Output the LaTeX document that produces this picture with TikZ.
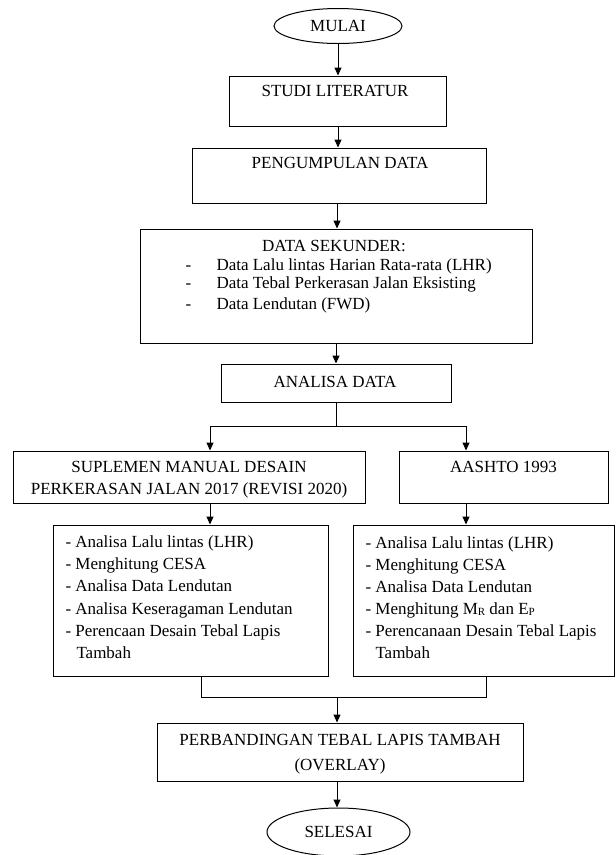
\documentclass[tikz,border=0pt]{standalone}
\usepackage{fontspec}
\setmainfont{Liberation Serif}
\usetikzlibrary{arrows.meta,shapes.geometric,calc}
\newcommand{\lowsub}[1]{\raisebox{-1.5pt}{\fontsize{11}{11}\selectfont #1}}
\begin{document}
\begin{tikzpicture}[x=1pt,y=-1pt,line width=1pt,
  txt/.style={font=\fontsize{17}{20}\selectfont, inner sep=0pt},
  box/.style={draw, rectangle, inner sep=0pt},
  oval/.style={draw, ellipse, inner sep=0pt, font=\fontsize{17}{20}\selectfont},
  arr/.style={-{Triangle[length=8pt,width=7pt]}}]
\useasboundingbox (0,0) rectangle (616,855);

% start / end
\node[oval, minimum width=128pt, minimum height=35pt] (mulai) at (338,26) {MULAI};
\node[oval, minimum width=143pt, minimum height=48pt] (selesai) at (338.5,832) {SELESAI};

% boxes
\node[box, minimum width=217pt, minimum height=50pt] (studi) at (337.5,101) {};
\node[box, minimum width=294pt, minimum height=55pt] (kumpul) at (339,175.5) {};
\node[box, minimum width=392pt, minimum height=114pt] (sekunder) at (336,286) {};
\node[box, minimum width=230pt, minimum height=38pt] (analisa) at (336,383) {};
\node[box, minimum width=352pt, minimum height=52pt] (suplemen) at (189,477) {};
\node[box, minimum width=209pt, minimum height=52pt] (aashto) at (503.5,477) {};
\node[box, minimum width=275pt, minimum height=151pt] (listL) at (190.5,600.5) {};
\node[box, minimum width=261pt, minimum height=151pt] (listR) at (483.5,600.5) {};
\node[box, minimum width=366pt, minimum height=58pt] (perb) at (340,752) {};

% texts
\node[txt, anchor=base] (tstudi) at (335,96.6) {STUDI LITERATUR};
\node[txt, anchor=base] (tkumpul) at (340,168.6) {PENGUMPULAN DATA};
\node[txt, anchor=base] (tsek) at (334,251.6) {DATA SEKUNDER:};
\node[txt, anchor=base west] (d1) at (185,270.5) {-};
\node[txt, anchor=base west] (s1) at (216,270.5) {Data Lalu lintas Harian Rata-rata (LHR)};
\node[txt, anchor=base west] (d2) at (185,288.5) {-};
\node[txt, anchor=base west] (s2) at (216,288.5) {Data Tebal Perkerasan Jalan Eksisting};
\node[txt, anchor=base west] (d3) at (185,309.5) {-};
\node[txt, anchor=base west] (s3) at (216,309.5) {Data Lendutan (FWD)};
\node[txt, anchor=base] (tanalisa) at (335,387.6) {ANALISA DATA};
\node[txt, anchor=base] (tsup1) at (189,472.6) {SUPLEMEN MANUAL DESAIN};
\node[txt, anchor=base] (tsup2) at (189,494.6) {PERKERASAN JALAN 2017 (REVISI 2020)};
\node[txt, anchor=base] (taash) at (503.5,472.6) {AASHTO 1993};

\node[txt, anchor=base west] (a1) at (65,547) {- Analisa Lalu lintas (LHR)};
\node[txt, anchor=base west] (a2) at (65,569) {- Menghitung CESA};
\node[txt, anchor=base west] (a3) at (65,591) {- Analisa Data Lendutan};
\node[txt, anchor=base west] (a4) at (65,614) {- Analisa Keseragaman Lendutan};
\node[txt, anchor=base west] (a5) at (65,636) {- Perencaan Desain Tebal Lapis};
\node[txt, anchor=base west] (a6) at (76,658) {Tambah};

\node[txt, anchor=base west] (b1) at (365,548) {- Analisa Lalu lintas (LHR)};
\node[txt, anchor=base west] (b2) at (365,570) {- Menghitung CESA};
\node[txt, anchor=base west] (b3) at (365,592) {- Analisa Data Lendutan};
\node[txt, anchor=base west] (b4) at (365,614) {- Menghitung M\lowsub{R} dan E\lowsub{P}};
\node[txt, anchor=base west] (b5) at (365,636) {- Perencanaan Desain Tebal Lapis};
\node[txt, anchor=base west] (b6) at (375,658) {Tambah};

\node[txt, anchor=base] (tperb1) at (340,745.6) {PERBANDINGAN TEBAL LAPIS TAMBAH};
\node[txt, anchor=base] (tperb2) at (340,770.6) {(OVERLAY)};

% connectors
\draw[arr] (mulai.south) -- (mulai.south |- studi.north);
\draw[arr] (338,126) coordinate (c1) -- (c1 |- kumpul.north);
\draw[arr] (337,203) coordinate (c2) -- (c2 |- sekunder.north);
\draw[arr] (336,343) coordinate (c3) -- (c3 |- analisa.north);

\coordinate (bl) at (210,426);
\coordinate (bm) at (336,426);
\coordinate (br) at (466,426);
\draw (analisa.south) -- (bm);
\draw (bl) -- (br);
\draw[arr] (bl) -- (bl |- suplemen.north);
\draw[arr] (br) -- (br |- aashto.north);
\draw[arr] (bl |- suplemen.south) -- (bl |- listL.north);
\draw[arr] (br |- aashto.south) -- (br |- listR.north);

\coordinate (jl) at (201,697);
\coordinate (jm) at (337,697);
\coordinate (jr) at (486,697);
\draw (jl |- listL.south) -- (jl) -- (jr) -- (jr |- listR.south);
\draw[arr] (jm) -- (jm |- perb.north);
\draw[arr] (jm |- perb.south) -- (jm |- selesai.north);
\end{tikzpicture}
\end{document}
